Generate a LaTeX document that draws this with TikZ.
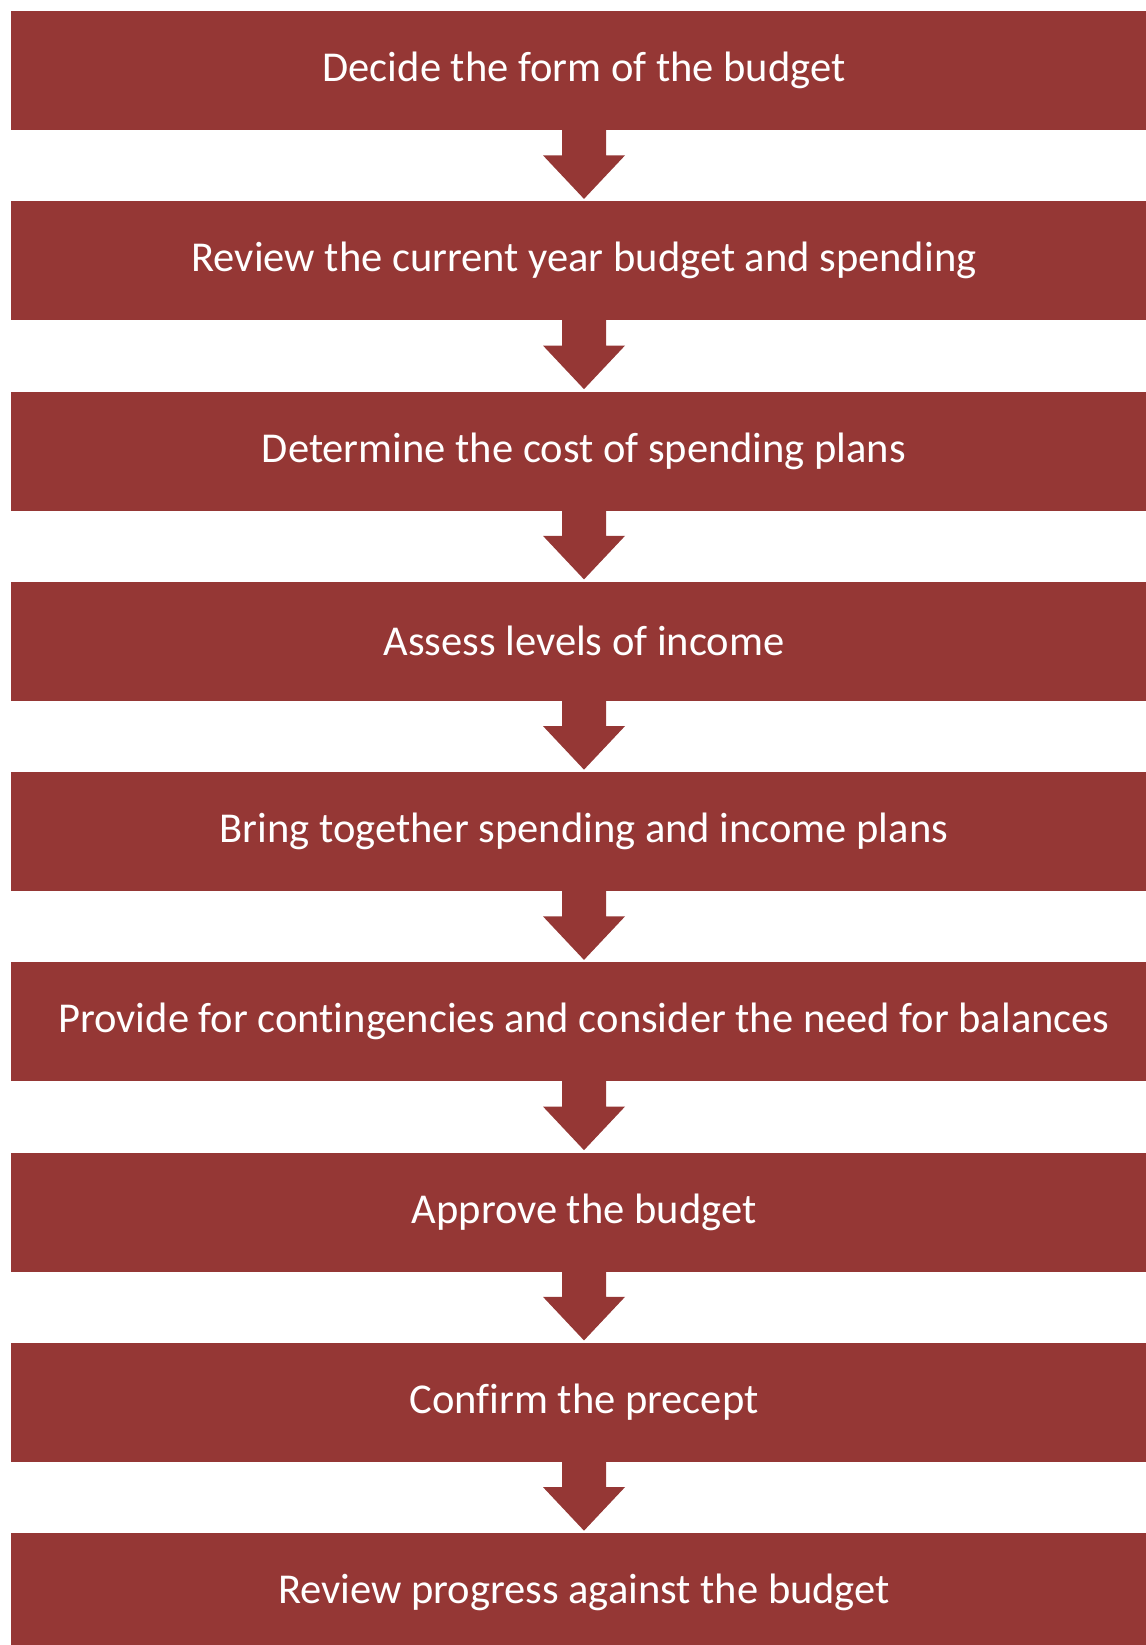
\documentclass[tikz,border=0pt]{standalone}
\usepackage{fontspec}
\setmainfont[Ligatures=NoCommon]{Carlito}
\usepackage{tikz}
\usetikzlibrary{positioning,calc}
\definecolor{StageRed}{HTML}{953735}

\begin{document}
\begin{tikzpicture}[every node/.style={font=\fontsize{24.2}{29}\selectfont},
          stage/.style={fill=StageRed, text=white, minimum width=22.92cm,
            minimum height=2.38cm, inner sep=0pt, align=center},
          flow/.style={fill=StageRed}]
        \useasboundingbox (0,0) rectangle (22.92,-32.9);

        \node[stage] (s1) at (11.68, -1.41)  {Decide the form of the budget};
        \node[stage] (s2) at (11.68, -5.215) {Review the current year budget and spending};
        \node[stage] (s3) at (11.68, -9.02)  {Determine the cost of spending plans};
        \node[stage] (s4) at (11.68,-12.825) {Assess levels of income};
        \node[stage] (s5) at (11.68,-16.63)  {Bring together spending and income plans};
        \node[stage] (s6) at (11.68,-20.435) {Provide for contingencies and consider the need for balances};
        \node[stage] (s7) at (11.68,-24.24)  {Approve the budget};
        \node[stage] (s8) at (11.68,-28.045) {Confirm the precept};
        \node[stage] (s9) at (11.68,-31.85)  {Review progress against the budget};

        % block arrows between the stages
        \foreach \a/\b in {s1/s2,s2/s3,s3/s4,s4/s5,s5/s6,s6/s7,s7/s8,s8/s9}
          \fill[flow] ($(\a.south)+(-0.44,0.05)$) -- ($(\a.south)+(-0.44,-0.5)$)
            -- ($(\a.south)+(-0.82,-0.5)$) -- ($(\b.north)+(0,0.04)$)
            -- ($(\a.south)+(0.82,-0.5)$) -- ($(\a.south)+(0.44,-0.5)$)
            -- ($(\a.south)+(0.44,0.05)$) -- cycle;
      \end{tikzpicture}
\end{document}
